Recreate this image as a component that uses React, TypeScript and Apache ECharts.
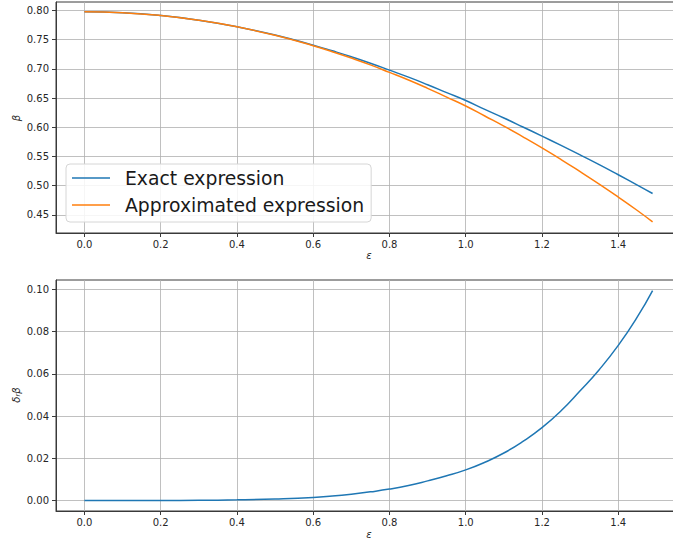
import React, { useEffect, useRef } from "react";
import * as echarts from "echarts";

const epsilon = [0, 0.1, 0.2, 0.3, 0.4, 0.5, 0.6, 0.65, 0.7, 0.75, 0.8, 0.85, 0.9, 0.95, 1.0, 1.05, 1.1, 1.15, 1.2, 1.25, 1.3, 1.35, 1.4, 1.45, 1.49];
const exactBeta = [0.7979, 0.7963, 0.7914, 0.7834, 0.7722, 0.7579, 0.7406, 0.7309, 0.7207, 0.7097, 0.6978, 0.6858, 0.6729, 0.6594, 0.6459, 0.6306, 0.6159, 0.6005, 0.5849, 0.569, 0.5527, 0.536, 0.5187, 0.5011, 0.4866];
const approxBeta = [0.7979, 0.7963, 0.7914, 0.7833, 0.772, 0.7574, 0.7396, 0.7294, 0.7185, 0.7068, 0.694, 0.6809, 0.6667, 0.6517, 0.6365, 0.6193, 0.602, 0.5837, 0.5647, 0.5448, 0.524, 0.5027, 0.4805, 0.4575, 0.438];
const relError = [0, 0.0, 0.00002, 0.0001, 0.0003, 0.0007, 0.0014, 0.0021, 0.003, 0.0041, 0.0054, 0.0071, 0.0093, 0.0117, 0.0145, 0.0181, 0.0225, 0.028, 0.0345, 0.0425, 0.052, 0.062, 0.0735, 0.087, 0.0995];

const xTicks = [0, 0.2, 0.4, 0.6, 0.8, 1.0, 1.2, 1.4];
const topYTicks = [0.45, 0.5, 0.55, 0.6, 0.65, 0.7, 0.75, 0.8];
const bottomYTicks = [0, 0.02, 0.04, 0.06, 0.08, 0.1];

const seriesNames = ["Exact expression", "Approximated expression"];

const FONT = "DejaVu Sans";
const SPINE = "#3a3a3a";
const GRIDC = "#b0b0b0";
const BLUE = "#1f77b4";
const ORANGE = "#ff7f0e";

function xAxis(gridIndex: number) {
  return {
    type: "value",
    gridIndex,
    min: -0.0745,
    max: 1.5645,
    axisLine: { show: true, onZero: false, lineStyle: { color: SPINE, width: 1 } },
    axisTick: { show: true, customValues: xTicks, length: 4, lineStyle: { color: SPINE } },
    axisLabel: {
      customValues: xTicks,
      margin: 6,
      color: "#262626",
      fontFamily: FONT,
      fontSize: 10,
      formatter: (v: number) => v.toFixed(1),
    },
    splitLine: { show: true, lineStyle: { color: GRIDC, width: 0.8 } },
  };
}

function yAxis(gridIndex: number, min: number, max: number, ticks: number[]) {
  return {
    type: "value",
    gridIndex,
    min,
    max,
    axisLine: { show: true, onZero: false, lineStyle: { color: SPINE, width: 1 } },
    axisTick: { show: true, customValues: ticks, length: 4, lineStyle: { color: SPINE } },
    axisLabel: {
      customValues: ticks,
      margin: 7,
      color: "#262626",
      fontFamily: FONT,
      fontSize: 10,
      formatter: (v: number) => v.toFixed(2),
    },
    splitLine: { show: true, lineStyle: { color: GRIDC, width: 0.8 } },
  };
}

export default function App() {
  const ref = useRef<HTMLDivElement>(null);
  useEffect(() => {
    if (!ref.current) return;
    const chart = echarts.init(ref.current, null, { renderer: "svg" });
    const pairs = (ys: number[]) => epsilon.map((x, i) => [x, ys[i]]);
    const line = (name: string, ys: number[], color: string, gi: number) => ({
      name,
      type: "line",
      xAxisIndex: gi,
      yAxisIndex: gi,
      data: pairs(ys),
      smooth: true,
      symbol: "none",
      lineStyle: { color, width: 1.5 },
      itemStyle: { color },
    });
    chart.setOption({
      animation: false,
      backgroundColor: "#ffffff",
      textStyle: { fontFamily: FONT },
      grid: [
        { left: 56, top: 2, width: 625, height: 231, show: true, borderColor: SPINE, borderWidth: 1, backgroundColor: "transparent" },
        { left: 56, top: 280, width: 625, height: 231, show: true, borderColor: SPINE, borderWidth: 1, backgroundColor: "transparent" },
      ],
      xAxis: [xAxis(0), xAxis(1)],
      yAxis: [yAxis(0, 0.419, 0.8145, topYTicks), yAxis(1, -0.00498, 0.1045, bottomYTicks)],
      legend: {
        show: true,
        data: seriesNames,
        orient: "vertical",
        left: 66,
        top: 164,
        padding: [3, 7, 6, 6],
        icon: "rect",
        itemWidth: 38,
        itemHeight: 1.5,
        itemGap: 5,
        backgroundColor: "rgba(255,255,255,0.85)",
        borderColor: "#d6d6d6",
        borderWidth: 1,
        borderRadius: 4,
        textStyle: { fontFamily: FONT, fontSize: 18.8, color: "#1a1a1a", lineHeight: 22, padding: [0, 0, 0, 10] },
      },
      series: [
        line(seriesNames[0], exactBeta, BLUE, 0),
        line(seriesNames[1], approxBeta, ORANGE, 0),
        line("relative", relError, BLUE, 1),
      ],
      graphic: [
        { type: "text", x: 16, y: 118, rotation: Math.PI / 2, style: { text: "β", font: `italic 10px '${FONT}'`, fill: "#262626", align: "center", verticalAlign: "middle" } },
        { type: "text", x: 369, y: 255, style: { text: "ε", font: `italic 10px '${FONT}'`, fill: "#262626", align: "center", verticalAlign: "middle" } },
        {
          type: "text",
          x: 16,
          y: 395,
          rotation: Math.PI / 2,
          style: {
            text: "{a|δ}{s|r}{a|β}",
            align: "center",
            verticalAlign: "middle",
            fill: "#262626",
            rich: {
              a: { fontFamily: FONT, fontStyle: "italic", fontSize: 10, fill: "#262626" },
              s: { fontFamily: FONT, fontStyle: "italic", fontSize: 7, fill: "#262626", padding: [4, 0, 0, 0] },
            },
          },
        },
        { type: "text", x: 369, y: 534, style: { text: "ε", font: `italic 10px '${FONT}'`, fill: "#262626", align: "center", verticalAlign: "middle" } },
      ],
    });
    return () => chart.dispose();
  }, []);
  return <div ref={ref} style={{ position: "fixed", left: 0, top: 0, width: 700, height: 543 }} />;
}
